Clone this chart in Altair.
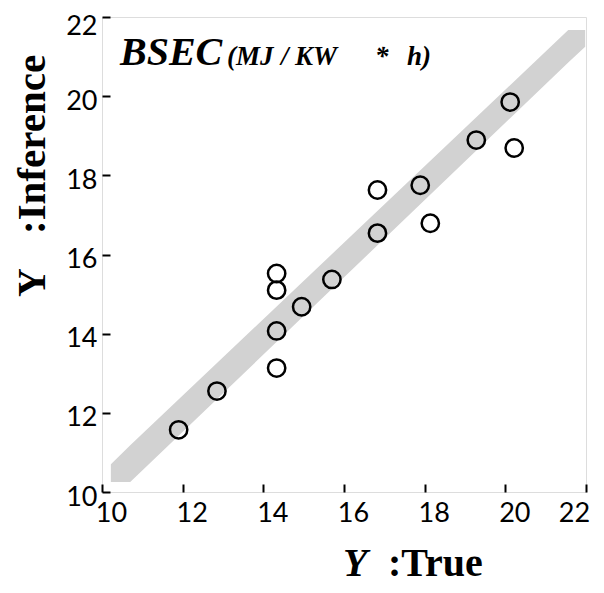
import altair as alt
import pandas as pd

# measured points (Y true, Y inference)
x_true = [11.9, 12.85, 14.33, 14.33, 14.33, 14.33, 14.95, 15.70, 16.83, 16.83, 17.89, 18.14, 19.28, 20.12, 20.22]
y_inf = [11.57, 12.55, 13.13, 14.07, 15.10, 15.52, 14.68, 15.37, 16.54, 17.63, 17.75, 16.79, 18.89, 19.85, 18.69]

# shaded band corners (x, lower edge, upper edge)
band_x = [10.22, 10.70, 21.56, 21.98]
band_lo = [10.25, 10.25, 20.85, 21.25]
band_hi = [10.70, 11.18, 21.67, 21.67]

ticks = [10, 12, 14, 16, 18, 20, 22]

pts = pd.DataFrame({"x": x_true, "y": y_inf})
band = pd.DataFrame({"x": band_x, "lo": band_lo, "hi": band_hi})

W, H = 484, 475
xs = alt.Scale(domain=[10, 22], nice=False, zero=False)
ys = alt.Scale(domain=[10, 22], nice=False, zero=False)

xaxis = alt.Axis(
    values=ticks, title=None, grid=False, domain=False,
    tickSize={"expr": "-8"}, tickWidth=2, tickColor="black",
    labelFont="Lato", labelFontSize=27, labelColor="black", labelPadding=16,
    labelFlush=False,
    labelOffset={"condition": {"test": "datum.value == 22", "value": -12}, "value": 9},
)
yaxis = alt.Axis(
    values=ticks, title=None, grid=False, domain=False,
    tickSize={"expr": "-8"}, tickWidth=2, tickColor="black",
    labelFont="Lato", labelFontSize=27, labelColor="black", labelPadding=13,
    labelFlush=False,
    labelOffset={"condition": {"test": "datum.value == 22", "value": 9}, "value": 5},
)

band_layer = alt.Chart(band).mark_area(color="#d2d2d2", opacity=1).encode(
    x=alt.X("x:Q", scale=xs, axis=xaxis),
    y=alt.Y("lo:Q", scale=ys, axis=yaxis),
    y2="hi:Q",
)

pt_layer = alt.Chart(pts).mark_point(
    shape="circle", filled=False, color="black", size=300, strokeWidth=2.5, opacity=1
).encode(x=alt.X("x:Q", scale=xs), y=alt.Y("y:Q", scale=ys))

def txt(s, x, y, size, style="normal", weight="bold", angle=0):
    kw = dict(text=s, align="left", baseline="alphabetic", font="Liberation Serif",
              fontSize=size, fontStyle=style, fontWeight=weight, color="black")
    if angle:
        kw["angle"] = angle
    return alt.Chart(pd.DataFrame({"a": [0]})).mark_text(**kw).encode(
        x=alt.value(x), y=alt.value(y)
    )

labels = [
    txt("BSEC", 18, 48, 40, style="italic"),
    txt("(MJ", 125, 48, 27, style="italic"),
    txt("/", 179, 48, 27, style="italic"),
    txt("KW", 193, 48, 27, style="italic"),
    txt("*", 273, 48, 27, style="italic"),
    txt("h)", 305, 48, 27, style="italic"),
    txt("Y", 241, 559, 40, style="italic"),
    txt(":True", 286, 559, 40),
    txt("Y", -57, 280, 40, angle=270),
    txt(":Inference", -57, 217, 41, angle=270),
]

chart = alt.layer(band_layer, pt_layer, *labels).properties(
    width=W, height=H,
    autosize=alt.AutoSizeParams(type="none"),
    padding={"left": 94, "top": 9, "right": 10, "bottom": 93},
).configure_view(stroke="black", strokeWidth=2).configure(background="white")

chart.save("out.html", embed_options={"renderer": "svg", "actions": False})
